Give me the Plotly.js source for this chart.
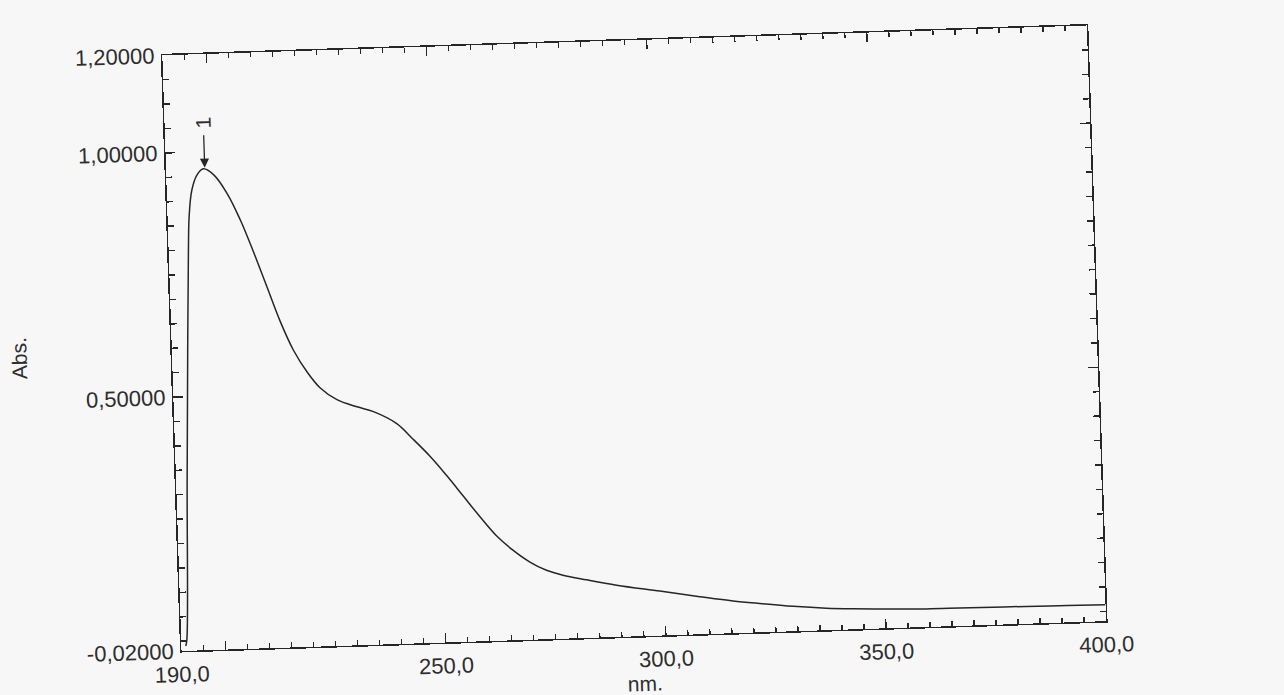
<!DOCTYPE html>
<html>
<head>
<meta charset="utf-8">
<script src="https://cdn.plot.ly/plotly-3.0.1.min.js"></script>
<style>
  html, body { margin: 0; padding: 0; background: #f7f7f7; overflow: hidden; width: 1284px; height: 695px; }
  #chart {
    width: 1284px; height: 740px;
    transform: rotate(-1.85deg);
    transform-origin: 642px 347.5px;
  }
</style>
</head>
<body>
<div id="chart"></div>
<script>
// Absorption spectrum, wavelength (nm) vs absorbance
const wavelength = [
  191.0, 191.3, 192.5, 193.6, 194.5, 194.9, 195.7, 197.0, 198.5, 200.8,
  203.7, 206.5, 209.2, 212.1, 214.8, 217.6, 220.5, 223.4, 227.1, 231.6,
  235.3, 240.5, 244.1, 247.8, 251.4, 255.1, 258.7, 262.3, 266.0, 269.7,
  273.4, 277.1, 282.4, 289.2, 299.0, 308.0, 315.5, 321.5, 329.1, 336.6,
  342.6, 351.7, 359.3, 366.8, 374.4, 382.0, 391.4, 400.0
];
const absorbance = [
  -0.010, 0.004, 0.324, 0.596, 0.800, 0.868, 0.922, 0.953, 0.965, 0.952,
  0.913, 0.858, 0.793, 0.718, 0.648, 0.588, 0.543, 0.509, 0.484, 0.468,
  0.457, 0.431, 0.398, 0.362, 0.322, 0.278, 0.235, 0.195, 0.164, 0.139,
  0.121, 0.110, 0.099, 0.086, 0.071, 0.057, 0.046, 0.039, 0.031, 0.025,
  0.022, 0.019, 0.017, 0.0165, 0.016, 0.0155, 0.0145, 0.0135
];

// Peak pick
const peakLabel = ['1'];
const peakWavelength = [198.8];
const peakAbs = [0.965];

// Axis ticks and labels
const xTickVals = [190, 200, 250, 300, 350, 400];
const xTickText = ['190,0', '', '250,0', '300,0', '350,0', '400,0'];
const yTickVals = [-0.02, 0.5, 1.0, 1.2];
const yTickText = ['-0,02000', '0,50000', '1,00000', '1,20000'];

const ink = '#262626';
const textInk = '#2e2e2e';
const fontFamily = 'Liberation Sans, Arial, sans-serif';

const trace = {
  x: wavelength,
  y: absorbance,
  type: 'scatter',
  mode: 'lines',
  line: { color: ink, width: 1.5, shape: 'spline', smoothing: 1 },
  hoverinfo: 'x+y',
  showlegend: false
};

const layout = {
  width: 1284,
  height: 740,
  margin: { l: 171.5, r: 186.5, t: 39.5, b: 103.5 },
  paper_bgcolor: 'rgba(0,0,0,0)',
  plot_bgcolor: 'rgba(0,0,0,0)',
  font: { family: fontFamily, size: 22, color: textInk },
  showlegend: false,
  xaxis: {
    range: [190, 400],
    showgrid: false,
    zeroline: false,
    showline: true,
    linecolor: ink,
    linewidth: 1.5,
    mirror: 'ticks',
    ticks: 'inside',
    ticklen: 9,
    tickwidth: 1.5,
    tickcolor: ink,
    tickmode: 'array',
    tickvals: xTickVals,
    ticktext: xTickText,
    ticklabelstandoff: 3,
    tickfont: { family: fontFamily, size: 22, color: textInk },
    minor: { dtick: 5, tick0: 190, ticks: 'inside', ticklen: 5, tickwidth: 1.5, tickcolor: ink, showgrid: false },
    title: { text: 'nm.', font: { family: fontFamily, size: 21, color: textInk }, standoff: 5 }
  },
  yaxis: {
    range: [-0.02, 1.2],
    showgrid: false,
    zeroline: false,
    showline: true,
    linecolor: ink,
    linewidth: 1.5,
    mirror: 'ticks',
    ticks: 'inside',
    ticklen: 10,
    tickwidth: 1.5,
    tickcolor: ink,
    tickmode: 'array',
    tickvals: yTickVals,
    ticktext: yTickText,
    ticklabelstandoff: 2,
    tickfont: { family: fontFamily, size: 22, color: textInk },
    minor: { dtick: 0.05, tick0: 0, ticks: 'inside', ticklen: 6, tickwidth: 1.5, tickcolor: ink, showgrid: false },
    title: { text: 'Abs.', font: { family: fontFamily, size: 21, color: textInk }, standoff: 44 }
  },
  annotations: peakLabel.map((t, i) => ({
    x: peakWavelength[i],
    y: peakAbs[i],
    xref: 'x',
    yref: 'y',
    text: t,
    textangle: -90,
    font: { family: fontFamily, size: 21, color: textInk },
    showarrow: true,
    arrowhead: 2,
    arrowsize: 1.4,
    arrowwidth: 1.3,
    arrowcolor: ink,
    ax: 0,
    ay: -46,
    borderpad: 0,
    startstandoff: 6,
    standoff: 1
  }))
};

Plotly.newPlot('chart', [trace], layout, { displayModeBar: false, staticPlot: true });
</script>
</body>
</html>
